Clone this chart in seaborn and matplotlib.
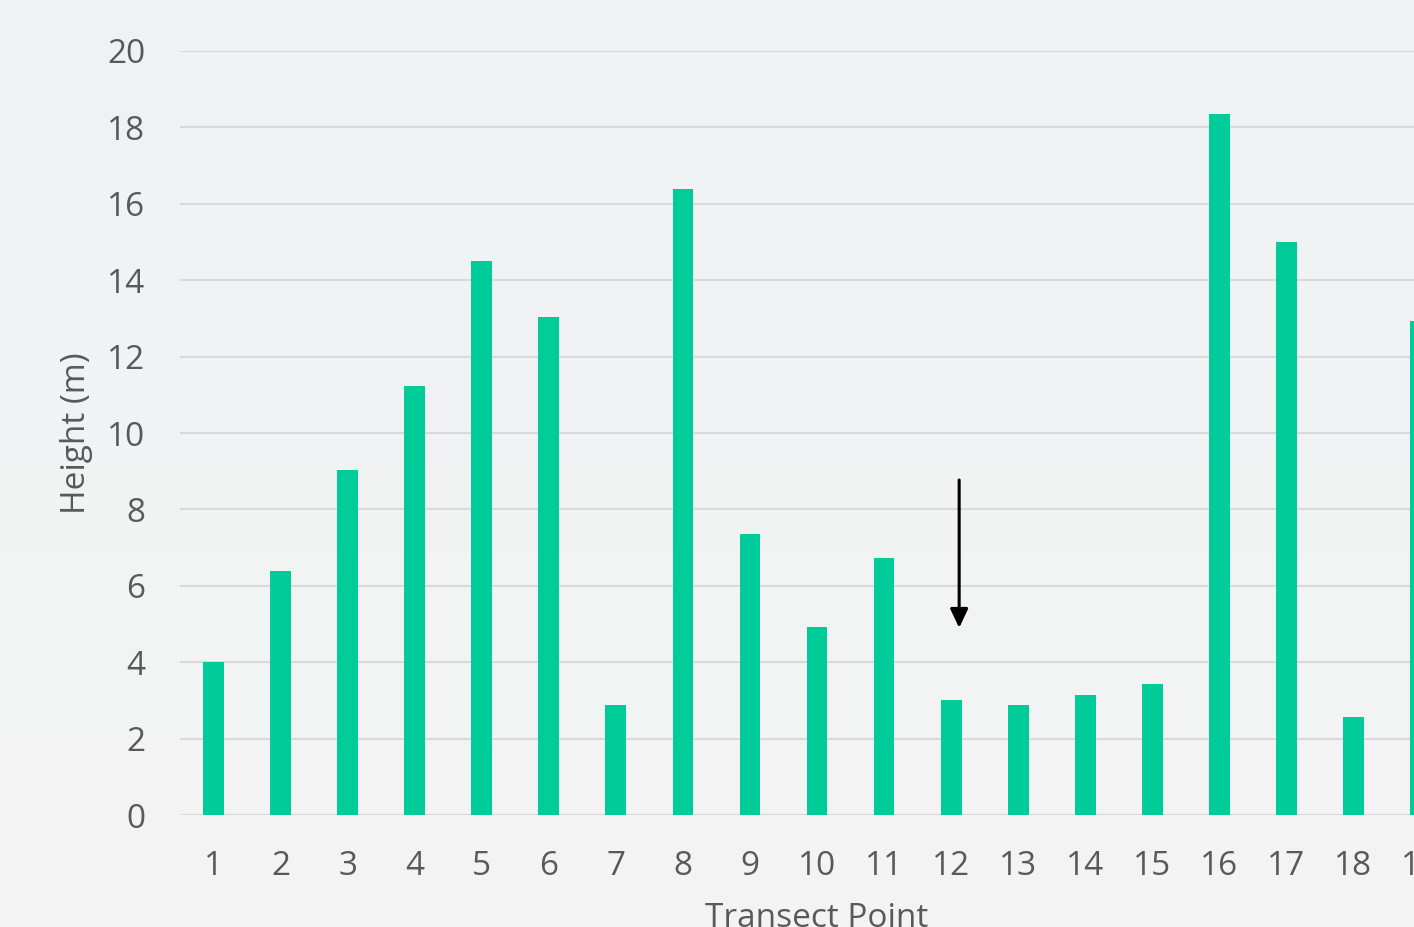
import matplotlib
matplotlib.use("Agg")
import matplotlib.pyplot as plt
import seaborn as sns
import numpy as np
import pandas as pd

# Tree heights measured along the transect
transect_points = [str(i) for i in range(1, 20)]
heights_m = [4.0, 6.4, 9.03, 11.23, 14.5, 13.04, 2.88, 16.4, 7.36, 4.92,
             6.73, 3.01, 2.88, 3.14, 3.43, 18.36, 15.0, 2.57, 12.93]

# Arrow marking the point of interest (data coordinates)
arrow_x = 11.12
arrow_top = 8.77
arrow_tip = 4.9

y_ticks = [0, 2, 4, 6, 8, 10, 12, 14, 16, 18, 20]

df = pd.DataFrame({"Transect Point": transect_points, "Height (m)": heights_m})

sns.set_theme(style="white")
plt.rcParams["font.family"] = ["Open Sans", "DejaVu Sans"]

text_color = "#595959"
bar_color = "#00CC99"

fig = plt.figure(figsize=(14.14, 9.27), dpi=100)
fig.patch.set_facecolor("#f2f3f3")

# soft background wash
bg = fig.add_axes([0, 0, 1, 1], zorder=-10)
grad = np.linspace(0, 1, 256)[:, None] * np.ones((1, 256))
bg.imshow(grad, cmap=matplotlib.colors.LinearSegmentedColormap.from_list(
    "wash", ["#eff2f3", "#f4f4f3"]), aspect="auto", extent=[0, 1, 0, 1])
bg.axis("off")

ax = fig.add_axes([0.1273, 0.1208, 0.901, 0.8242])
ax.set_facecolor("none")

sns.barplot(data=df, x="Transect Point", y="Height (m)", color=bar_color,
            width=0.31, saturation=1, linewidth=0, ax=ax, zorder=3)

ax.set_ylim(0, 20)
ax.set_xlim(-0.5, len(transect_points) - 0.5)
ax.set_yticks(y_ticks)
ax.yaxis.grid(True, color="#d9d9d9", linewidth=1.5, zorder=0)
ax.set_axisbelow(True)
for s in ax.spines.values():
    s.set_visible(False)
ax.axhline(0, color="#d9d9d9", linewidth=1.5, zorder=1)

ax.tick_params(axis="both", length=0, labelsize=24, labelcolor=text_color)
ax.tick_params(axis="y", pad=25)
ax.tick_params(axis="x", pad=25)

ax.set_ylabel("Height (m)", fontsize=24, color=text_color, labelpad=10)
ax.set_xlabel("Transect Point", fontsize=24, color=text_color, labelpad=14)

ax.annotate("", xy=(arrow_x, arrow_tip), xytext=(arrow_x, arrow_top),
            arrowprops=dict(arrowstyle="-|>,head_length=0.95,head_width=0.45",
                            color="black", lw=2.2, shrinkA=0, shrinkB=0),
            zorder=5)

fig.savefig("out.png", dpi=100, facecolor=fig.get_facecolor())
